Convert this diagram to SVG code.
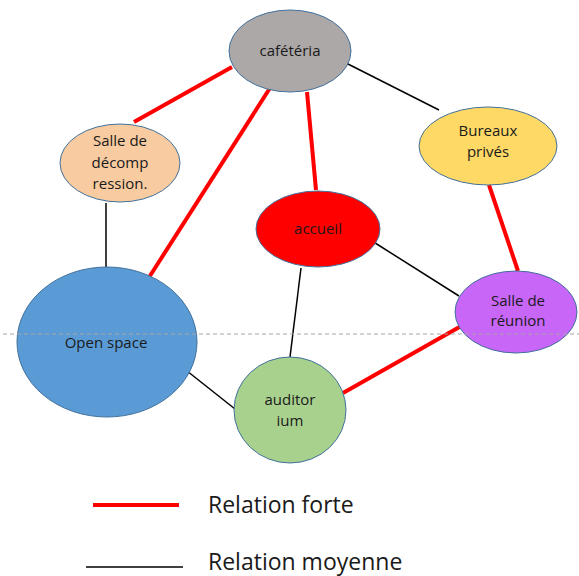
<svg xmlns="http://www.w3.org/2000/svg" width="579" height="576" viewBox="0 0 579 576">
  <style>
    .node { stroke: #41719c; stroke-width: 1; }
    .lbl { font-family: "Open Sans", "Liberation Sans", sans-serif; font-size: 15px; fill: #1a1a1a; text-anchor: middle; }
    .strong { stroke: #ff0000; stroke-width: 4; stroke-linecap: butt; }
    .medium { stroke: #000000; stroke-width: 1.5; }
    .legend { font-family: "Open Sans", "Liberation Sans", sans-serif; font-size: 23px; fill: #1a1a1a; }
  </style>
  <rect width="579" height="576" fill="#ffffff"/>

  <g id="connectors">
    <line class="strong" x1="232" y1="67" x2="134" y2="122"/>
    <line class="strong" x1="270" y1="88" x2="148" y2="279"/>
    <line class="strong" x1="307" y1="92" x2="316" y2="190"/>
    <line class="strong" x1="489" y1="185" x2="518" y2="271"/>
    <line class="strong" x1="463" y1="325" x2="343" y2="393"/>
    <line class="medium" x1="346" y1="63" x2="439" y2="110"/>
    <line class="medium" x1="106" y1="203" x2="106" y2="268"/>
    <line class="medium" x1="372" y1="241" x2="459" y2="296"/>
    <line class="medium" x1="301" y1="268" x2="290" y2="357"/>
    <line class="medium" x1="182" y1="367" x2="235" y2="409"/>
  </g>

  <g id="cafeteria">
    <ellipse class="node" cx="290" cy="51" rx="61" ry="41" fill="#aca8a8"/>
    <text class="lbl" x="290" y="56">cafétéria</text>
  </g>
  <g id="decompression">
    <ellipse class="node" cx="120" cy="163" rx="60" ry="39" fill="#f8cba0"/>
    <text class="lbl" x="120" y="146">Salle de</text>
    <text class="lbl" x="120" y="168">décomp</text>
    <text class="lbl" x="120" y="189">ression.</text>
  </g>
  <g id="bureaux">
    <ellipse class="node" cx="488" cy="146" rx="69" ry="39" fill="#ffd966"/>
    <text class="lbl" x="488" y="136">Bureaux</text>
    <text class="lbl" x="488" y="157">privés</text>
  </g>
  <g id="accueil">
    <ellipse class="node" cx="318" cy="229" rx="62" ry="38" fill="#ff0000"/>
    <text class="lbl" x="318" y="234">accueil</text>
  </g>
  <g id="openspace">
    <ellipse class="node" cx="107" cy="342" rx="90" ry="75" fill="#5b9bd5"/>
    <text class="lbl" x="106" y="348">Open space</text>
  </g>
  <g id="reunion">
    <ellipse class="node" cx="516" cy="312" rx="61" ry="41" fill="#c866f7"/>
    <text class="lbl" x="518" y="306">Salle de</text>
    <text class="lbl" x="518" y="326">réunion</text>
  </g>
  <g id="auditorium">
    <ellipse class="node" cx="290" cy="410" rx="56" ry="53" fill="#a9d18e"/>
    <text class="lbl" x="290" y="405">auditor</text>
    <text class="lbl" x="290" y="426">ium</text>
  </g>

  <line x1="3" y1="334" x2="579" y2="334" stroke="#a6a6a6" stroke-width="1" stroke-dasharray="4 3"/>

  <g id="legend">
    <line class="strong" x1="93" y1="505" x2="179" y2="505"/>
    <text class="legend" x="208" y="513">Relation forte</text>
    <line class="medium" x1="86" y1="567" x2="183" y2="567"/>
    <text class="legend" x="208" y="570">Relation moyenne</text>
  </g>
</svg>
